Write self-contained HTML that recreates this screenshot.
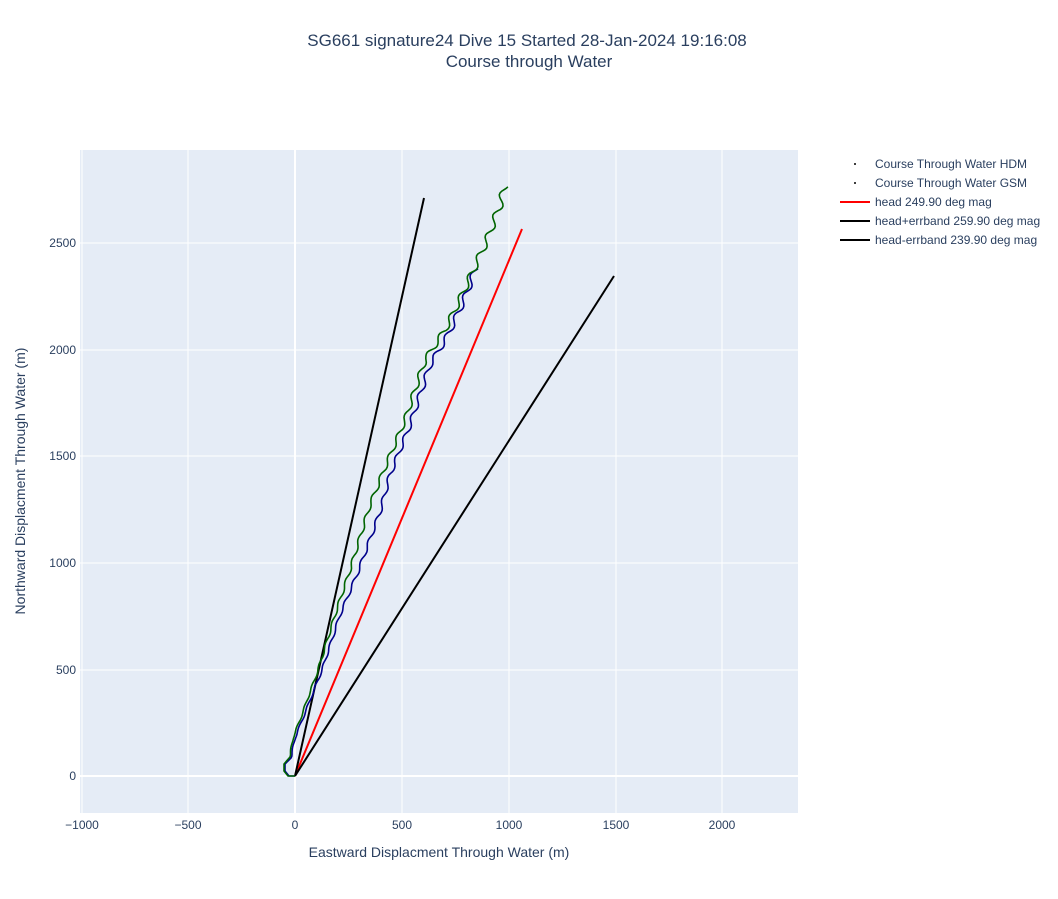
<!DOCTYPE html>
<html><head><meta charset="utf-8"><style>
body{margin:0;background:#fff;font-family:"Liberation Sans",sans-serif}
svg text{font-family:"Liberation Sans",sans-serif;fill:#2a3f5f}
</style></head><body>
<svg id="s" width="1058" height="894" xmlns="http://www.w3.org/2000/svg">
<rect width="1058" height="894" fill="#fff"/>
<text x="527" y="46" font-size="17" text-anchor="middle">SG661 signature24 Dive 15 Started 28-Jan-2024 19:16:08</text>
<text x="529" y="67" font-size="17" text-anchor="middle">Course through Water</text>
<rect x="80" y="150" width="718" height="663" fill="#e5ecf6"/>
<g stroke="#fff" stroke-width="1">
<line x1="82" y1="150" x2="82" y2="813"/><line x1="188" y1="150" x2="188" y2="813"/>
<line x1="402" y1="150" x2="402" y2="813"/><line x1="509" y1="150" x2="509" y2="813"/>
<line x1="616" y1="150" x2="616" y2="813"/><line x1="722" y1="150" x2="722" y2="813"/>
<line x1="80" y1="670" x2="798" y2="670"/><line x1="80" y1="563" x2="798" y2="563"/>
<line x1="80" y1="456" x2="798" y2="456"/><line x1="80" y1="350" x2="798" y2="350"/>
<line x1="80" y1="243" x2="798" y2="243"/>
<line x1="295" y1="150" x2="295" y2="813" stroke-width="2"/>
<line x1="80" y1="776" x2="798" y2="776" stroke-width="2"/>
</g>
<g font-size="12" text-anchor="middle">
<text x="82" y="829">−1000</text><text x="188" y="829">−500</text><text x="295" y="829">0</text>
<text x="402" y="829">500</text><text x="509" y="829">1000</text><text x="616" y="829">1500</text><text x="722" y="829">2000</text>
</g>
<g font-size="12" text-anchor="end">
<text x="76" y="780">0</text><text x="76" y="674">500</text><text x="76" y="567">1000</text>
<text x="76" y="460">1500</text><text x="76" y="354">2000</text><text x="76" y="247">2500</text>
</g>
<text x="439" y="857" font-size="14" text-anchor="middle">Eastward Displacment Through Water (m)</text>
<text transform="translate(25,481) rotate(-90)" font-size="14" text-anchor="middle">Northward Displacment Through Water (m)</text>
<g stroke-width="2" fill="none">
<line x1="295" y1="776" x2="522" y2="229" stroke="#f00"/>
<line x1="295" y1="776" x2="424" y2="198" stroke="#000"/>
<line x1="295" y1="776" x2="614" y2="276" stroke="#000"/>
<path id="blue" stroke="#00008b" stroke-width="1.6"/>
<path id="green" stroke="#006400" stroke-width="1.6"/>
</g>
<g font-size="12">
<circle cx="855" cy="164" r="1" fill="#000"/><text x="875" y="168">Course Through Water HDM</text>
<circle cx="855" cy="183" r="1" fill="#000"/><text x="875" y="187">Course Through Water GSM</text>
<line x1="840" y1="202" x2="870" y2="202" stroke="#f00" stroke-width="2"/><text x="875" y="206">head 249.90 deg mag</text>
<line x1="840" y1="221" x2="870" y2="221" stroke="#000" stroke-width="2"/><text x="875" y="225">head+errband 259.90 deg mag</text>
<line x1="840" y1="240" x2="870" y2="240" stroke="#000" stroke-width="2"/><text x="875" y="244">head-errband 239.90 deg mag</text>
</g>
</svg>
<script>
function build(pts,per){
 let d="M"+pts[0][0]+","+pts[0][1];let acc=0;
 for(let i=1;i<pts.length;i++){
  const [x0,y0]=pts[i-1],[x1,y1]=pts[i];const L=Math.hypot(x1-x0,y1-y0);
  const nx=-(y1-y0)/L,ny=(x1-x0)/L;const n=Math.max(1,Math.ceil(L/2));
  for(let k=1;k<=n;k++){const t=k/n;acc+=L/n;
   const y=y0+(y1-y0)*t;
   const amp=(i>4)?(0.6+2.4*Math.max(0,(700-y)/450)):0;
   const a=amp*Math.sin(acc*2*Math.PI/per);
   d+=" L"+(x0+(x1-x0)*t+nx*a).toFixed(1)+","+(y+ny*a).toFixed(1);}
 }
 return d;
}
const g=[[295,776],[288,776],[284,771],[284,764],[290,757],[293,738],[300,720],[318,670],[336,612],[350,570],[370,505],[384,470],[405,420],[425,360],[445,330],[462,295],[477,262],[487,240],[500,205],[505,186]];
const b=[[295,776],[289,776],[285,771],[285,764],[291,758],[295,738],[303,718],[322,670],[340,615],[358,572],[380,512],[390,475],[410,425],[430,365],[448,335],[464,300],[476,268]];
document.getElementById("green").setAttribute("d",build(g,22));
document.getElementById("blue").setAttribute("d",build(b,22));
</script>
</body></html>
